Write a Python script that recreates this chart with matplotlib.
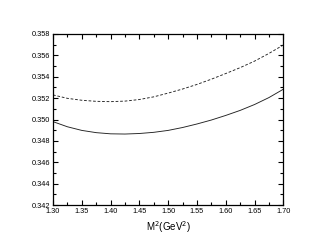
import matplotlib
matplotlib.use("Agg")
import matplotlib.pyplot as plt
from matplotlib.ticker import MultipleLocator

x = [1.300, 1.325, 1.350, 1.375, 1.400, 1.425, 1.450, 1.475, 1.500,
     1.525, 1.550, 1.575, 1.600, 1.625, 1.650, 1.675, 1.700]
solid = [0.34980, 0.34932, 0.34898, 0.34877, 0.34866, 0.34864, 0.34869, 0.34880, 0.34898,
         0.34925, 0.34958, 0.34995, 0.35038, 0.35085, 0.35140, 0.35205, 0.35283]
dashed = [0.35230, 0.35198, 0.35180, 0.35170, 0.35167, 0.35172, 0.35187, 0.35212, 0.35247,
          0.35285, 0.35328, 0.35377, 0.35430, 0.35485, 0.35546, 0.35618, 0.35697]

plt.rcParams['font.family'] = ['Liberation Sans', 'DejaVu Sans']

fig = plt.figure(figsize=(3.17, 2.49), dpi=100)
ax = fig.add_axes([53/317, 1 - 205/249, (283.3-53)/317, (205-34)/249])
ax.plot(x, solid, color='#222222', lw=0.65)
ax.plot(x, dashed, color='#222222', lw=0.65, dashes=(3, 2))
ax.set_xlim(1.30, 1.70)
ax.set_ylim(0.342, 0.358)
ax.xaxis.set_major_locator(MultipleLocator(0.05))
ax.xaxis.set_minor_locator(MultipleLocator(0.025))
ax.yaxis.set_major_locator(MultipleLocator(0.002))
ax.yaxis.set_minor_locator(MultipleLocator(0.001))
ax.set_xticklabels([f"{v:.2f}" for v in ax.get_xticks()])
ax.set_yticklabels([f"{v:.3f}" for v in ax.get_yticks()])
ax.tick_params(which='both', direction='in', top=True, right=True, labelsize=5.3, width=0.8, pad=2)
ax.tick_params(which='major', length=3.5)
ax.tick_params(which='minor', length=2)
for s in ax.spines.values():
    s.set_linewidth(0.9)
ax.set_xlabel(r'M$^2$(GeV$^2$)', fontsize=7, labelpad=3)
fig.savefig('out.png', dpi=100)
